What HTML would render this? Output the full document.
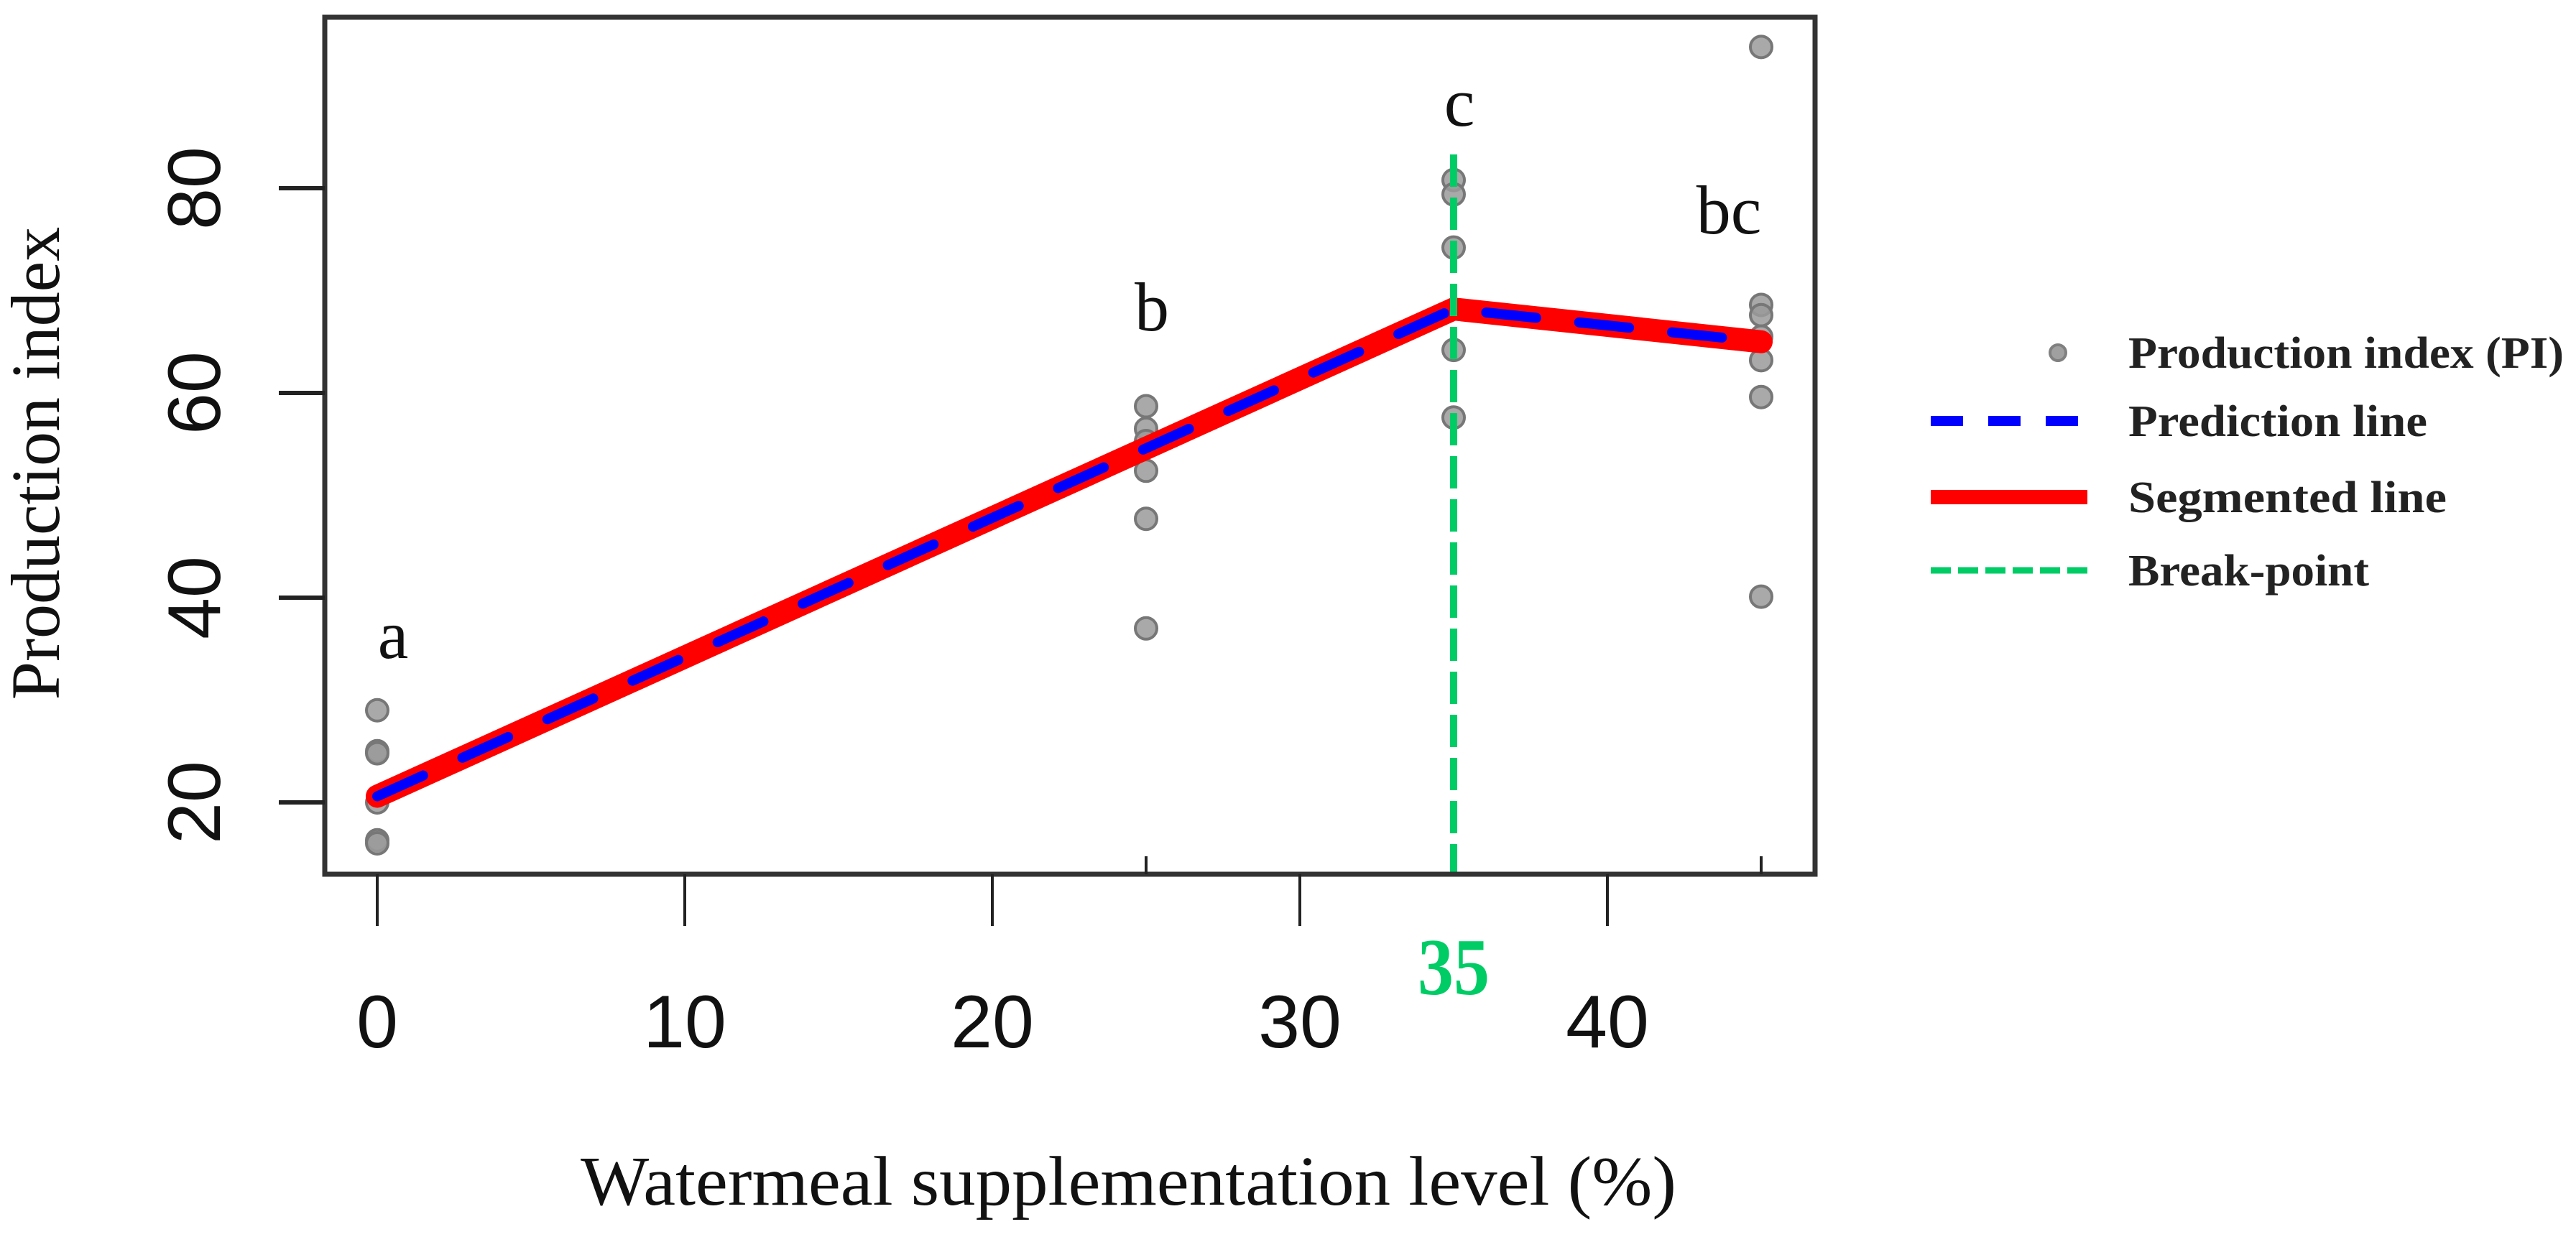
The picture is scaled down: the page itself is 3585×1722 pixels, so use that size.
<!DOCTYPE html>
<html><head><meta charset="utf-8"><style>
html,body{margin:0;padding:0;background:#fff;}
svg{display:block;}
</style></head><body>
<svg id="chart" xmlns="http://www.w3.org/2000/svg" width="3585" height="1722" viewBox="0 0 3585 1722">
<rect x="0" y="0" width="3585" height="1722" fill="#fff"/>
<g id="marks"></g>
<rect x="452" y="24" width="2074" height="1193" fill="none" stroke="#333" stroke-width="7"/>
<g id="axes"></g>
<text transform="translate(82,645) rotate(-90)" text-anchor="middle" font-family="Liberation Serif, serif" font-size="96" fill="#111">Production index</text>
<text x="808" y="1677" textLength="1525" lengthAdjust="spacingAndGlyphs" font-family="Liberation Serif, serif" font-size="98" fill="#111">Watermeal supplementation level (%)</text>
<g>
  <circle cx="2864" cy="491" r="11" fill="#a0a0a0" stroke="#808080" stroke-width="4"/>
  <text x="2962" y="512" font-family="Liberation Serif, serif" font-weight="bold" font-size="62" textLength="606" lengthAdjust="spacingAndGlyphs" fill="#222">Production index (PI)</text>
  <line x1="2687" y1="586" x2="2908" y2="586" stroke="#0000ff" stroke-width="14" stroke-dasharray="45 35"/>
  <text x="2962" y="607" font-family="Liberation Serif, serif" font-weight="bold" font-size="62" textLength="416" lengthAdjust="spacingAndGlyphs" fill="#222">Prediction line</text>
  <line x1="2687" y1="692" x2="2905" y2="692" stroke="#ff0000" stroke-width="20"/>
  <text x="2962" y="713" font-family="Liberation Serif, serif" font-weight="bold" font-size="62" textLength="443" lengthAdjust="spacingAndGlyphs" fill="#222">Segmented line</text>
  <line x1="2687" y1="794" x2="2905" y2="794" stroke="#00cc66" stroke-width="9" stroke-dasharray="28 10"/>
  <text x="2962" y="815" font-family="Liberation Serif, serif" font-weight="bold" font-size="62" textLength="335" lengthAdjust="spacingAndGlyphs" fill="#222">Break-point</text>
</g>
</svg>
<script>
const groupX = [0, 25, 35, 45];
const groupLetters = ["a", "b", "c", "bc"];
const letterY = [35.5, 67.5, 87.5, 77];
const pts0 = [29, 25, 24.8, 20, 16.3, 16];
const pts25 = [58.7, 56.5, 55.3, 52.4, 47.7, 37];
const pts35 = [80.8, 79.4, 74.2, 64.2, 57.6];
const pts45 = [93.8, 68.6, 67.6, 65.5, 63.2, 59.6, 40.1];
const segX = [0, 35, 45];
const segY = [20.6, 68.2, 65];
const breakPoint = 35;
const xTicks = [0, 10, 20, 30, 40];
const yTicks = [20, 40, 60, 80];

const NS = "http://www.w3.org/2000/svg";
function sx(v){ return 525 + v * 42.8; }
function sy(v){ return 1117 - (v - 20) * 14.25; }
function mk(tag, attrs, parent){
  const e = document.createElementNS(NS, tag);
  for (const k in attrs) e.setAttribute(k, attrs[k]);
  parent.appendChild(e); return e;
}
const marks = document.getElementById("marks");
const axes = document.getElementById("axes");

const allPts = [pts0, pts25, pts35, pts45];
allPts.forEach((arr, gi) => {
  arr.forEach(v => {
    const c = mk("circle", {cx: sx(groupX[gi]), cy: sy(v), r: 15, fill: "#9a9a9a", "fill-opacity": "0.85", stroke: "#777", "stroke-width": 4}, marks);
    
    
  });
});
let d = segX.map((x, i) => (i ? "L" : "M") + sx(x) + " " + sy(segY[i])).join(" ");
const seg = mk("path", {d: d, fill: "none", stroke: "#ff0000", "stroke-width": 32, "stroke-linejoin": "round", "stroke-linecap": "round"}, marks);


const pred = mk("path", {d: d, fill: "none", stroke: "#0000ff", "stroke-width": 14, "stroke-dasharray": "70 60", "stroke-linecap": "round"}, marks);


const bl = mk("line", {x1: sx(breakPoint), y1: 215, x2: sx(breakPoint), y2: 1217, stroke: "#00cc66", "stroke-width": 10, "stroke-dasharray": "45 15"}, marks);


const bt = mk("text", {x: sx(breakPoint), y: 1384, "text-anchor": "middle", "font-family": "Liberation Serif, serif", "font-weight": "bold", "font-size": 112, fill: "#00cc66", textLength: 100, lengthAdjust: "spacingAndGlyphs"}, axes);
bt.textContent = String(breakPoint);


groupLetters.forEach((L, i) => {
  const off = L === "bc" ? -45 : (L === "a" ? 22 : 8);
  const t = mk("text", {x: sx(groupX[i]) + off, y: sy(letterY[i]) + 20, "text-anchor": "middle", "font-family": "Liberation Serif, serif", "font-size": 96, fill: "#111"}, marks);
  t.textContent = L;
  
  
});
xTicks.forEach(v => {
  const l = mk("line", {x1: sx(v), y1: 1217, x2: sx(v), y2: 1289, stroke: "#222", "stroke-width": 4}, axes);
  
  
  const t = mk("text", {x: sx(v), y: 1458, "text-anchor": "middle", "font-family": "Liberation Sans, sans-serif", "font-size": 104, fill: "#111"}, axes);
  t.textContent = String(v);
  
  
});
[25, 45].forEach(v => {
  const l = mk("line", {x1: sx(v), y1: 1217, x2: sx(v), y2: 1192, stroke: "#222", "stroke-width": 4}, axes);
  
  
});
yTicks.forEach(v => {
  const l = mk("line", {x1: 388, y1: sy(v), x2: 452, y2: sy(v), stroke: "#222", "stroke-width": 6}, axes);
  
  
  const t = mk("text", {transform: "translate(306," + sy(v) + ") rotate(-90)", "text-anchor": "middle", "font-family": "Liberation Sans, sans-serif", "font-size": 104, fill: "#111"}, axes);
  t.textContent = String(v);
  
  
});
</script>
</body></html>
